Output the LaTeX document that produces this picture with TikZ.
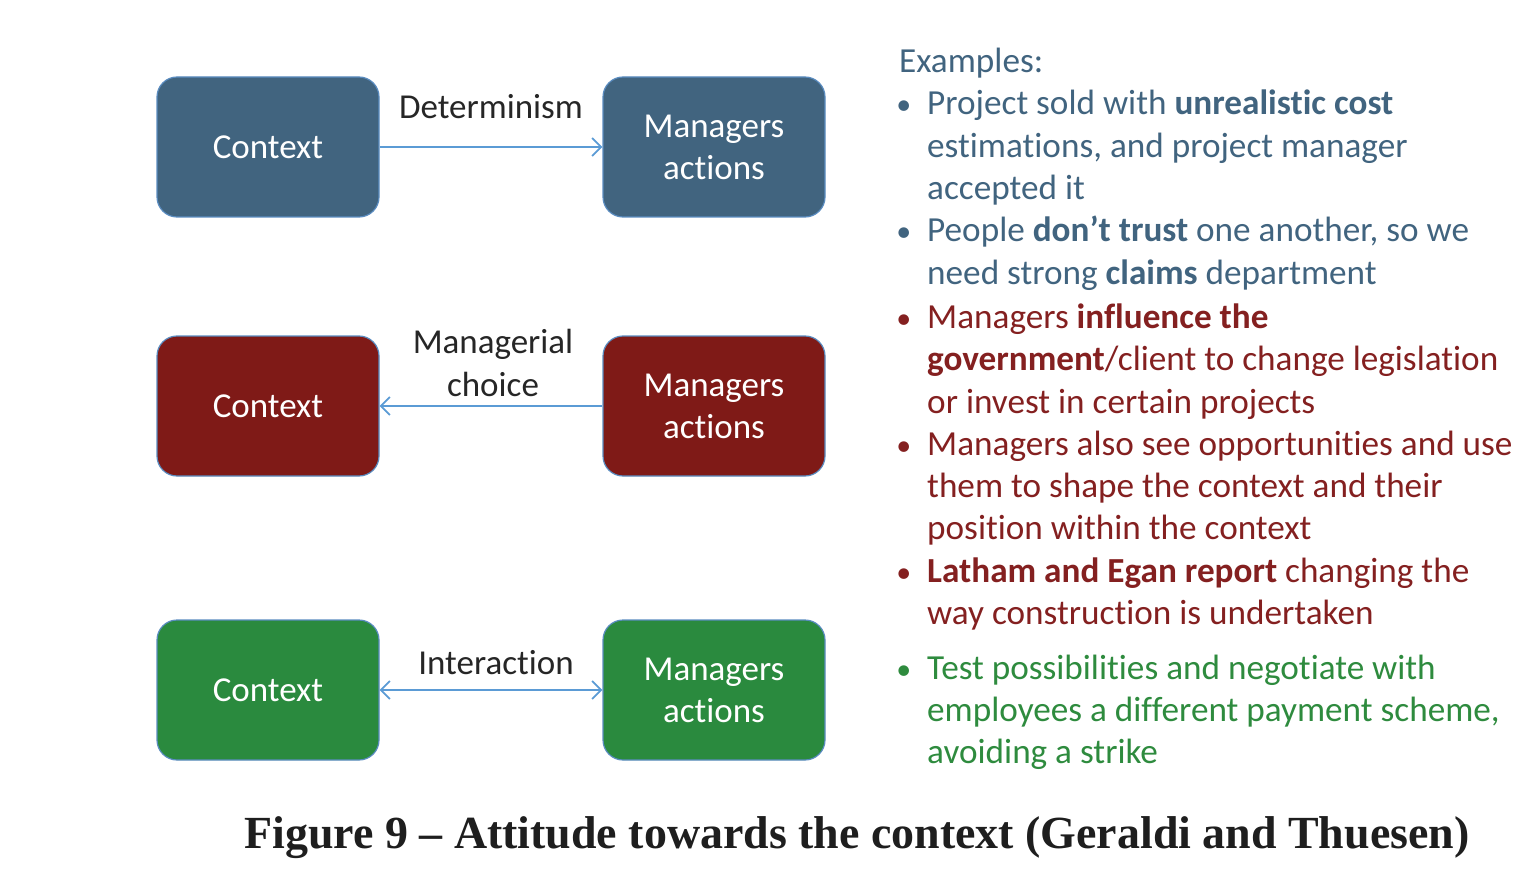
\documentclass[tikz,border=0pt]{standalone}
\usepackage{fontspec}
\usepackage{graphicx}
\setmainfont{Carlito}[Ligatures=NoCommon]
\newfontfamily\capfont{Liberation Serif}
\usetikzlibrary{arrows.meta}
\definecolor{bxblue}{HTML}{41647F}
\definecolor{bxred}{HTML}{7F1A17}
\definecolor{bxgreen}{HTML}{2A8A3E}
\definecolor{bxedge}{HTML}{5A8CC0}
\definecolor{arrblue}{HTML}{5B9BD5}
\definecolor{lbltext}{HTML}{262626}
\definecolor{txblue}{HTML}{41647F}
\definecolor{txred}{HTML}{842020}
\definecolor{txgreen}{HTML}{2E8B3E}
\definecolor{captext}{HTML}{1E1E1E}
\newcommand\bul{\llap{\scalebox{0.85}{•}\hspace{16pt}}}
\begin{document}
\begin{tikzpicture}[x=1pt,y=-1pt,
 box/.style={draw=bxedge, line width=1.2pt, rounded corners=20pt, minimum width=222pt, minimum height=140pt, inner sep=0pt, align=center, text=white, font=\fontsize{35}{42}\selectfont},
 lbl/.style={anchor=base, text=lbltext, inner sep=0pt, font=\fontsize{35}{42}\selectfont},
 ln/.style={anchor=base west, inner sep=0pt, font=\fontsize{35.2}{42}\selectfont},
 arr/.style={draw=arrblue, line width=1.8pt, -{Straight Barb[length=9pt,width=18pt]}},
 arrb/.style={draw=arrblue, line width=1.8pt, {Straight Barb[length=9pt,width=18pt]}-{Straight Barb[length=9pt,width=18pt]}},
 arrl/.style={draw=arrblue, line width=1.8pt, {Straight Barb[length=9pt,width=18pt]}-}]
\useasboundingbox (0,0) rectangle (1520,877);
% row 1
\node[box, fill=bxblue] (c1) at (268,147) {Context};
\node[box, fill=bxblue] (m1) at (714,147) {Managers\\actions};
\draw[arr] (c1) -- (m1);
\node[lbl] (t1) at (491,119) {Determinism};
% row 2
\node[box, fill=bxred] (c2) at (268,406) {Context};
\node[box, fill=bxred] (m2) at (714,406) {Managers\\actions};
\draw[arrl] (c2) -- (m2);
\node[lbl] (t2a) at (493,353) {Managerial};
\node[lbl] (t2b) at (493,396) {choice};
% row 3
\node[box, fill=bxgreen] (c3) at (268,690) {Context};
\node[box, fill=bxgreen] (m3) at (714,690) {Managers\\actions};
\draw[arrb] (c3) -- (m3);
\node[lbl] (t3) at (496,674) {Interaction};
% examples
\node[ln, text=txblue] (e0) at (899,73) {Examples:};
\node[ln, text=txblue] (e1) at (927,115) {\bul Project sold with \textbf{unrealistic cost}};
\node[ln, text=txblue] (e2) at (927,158) {estimations, and project manager};
\node[ln, text=txblue] (e3) at (927,200) {accepted it};
\node[ln, text=txblue] (e4) at (927,242) {\bul People \textbf{don’t trust} one another, so we};
\node[ln, text=txblue] (e5) at (927,284) {need strong \textbf{claims} department};
\node[ln, text=txred] (e6) at (927,328) {\bul Managers \textbf{influence the}};
\node[ln, text=txred] (e7) at (927,370) {\textbf{government}/client to change legislation};
\node[ln, text=txred] (e8) at (927,413) {or invest in certain projects};
\node[ln, text=txred] (e9) at (927,455) {\bul Managers also see opportunities and use};
\node[ln, text=txred] (e10) at (927,497) {them to shape the context and their};
\node[ln, text=txred] (e11) at (927,539) {position within the context};
\node[ln, text=txred] (e12) at (927,582) {\bul \textbf{Latham and Egan report} changing the};
\node[ln, text=txred] (e13) at (927,624) {way construction is undertaken};
\node[ln, text=txgreen] (e14) at (927,679) {\bul Test possibilities and negotiate with};
\node[ln, text=txgreen] (e15) at (927,721) {employees a different payment scheme,};
\node[ln, text=txgreen] (e16) at (927,763) {avoiding a strike};
% caption
\node[anchor=base, inner sep=0pt, text=captext] (cap) at (857,848) {\resizebox{1225pt}{\height}{\capfont\bfseries\fontsize{46}{54}\selectfont Figure 9 – Attitude towards the context (Geraldi and Thuesen)}};
\end{tikzpicture}
\end{document}
